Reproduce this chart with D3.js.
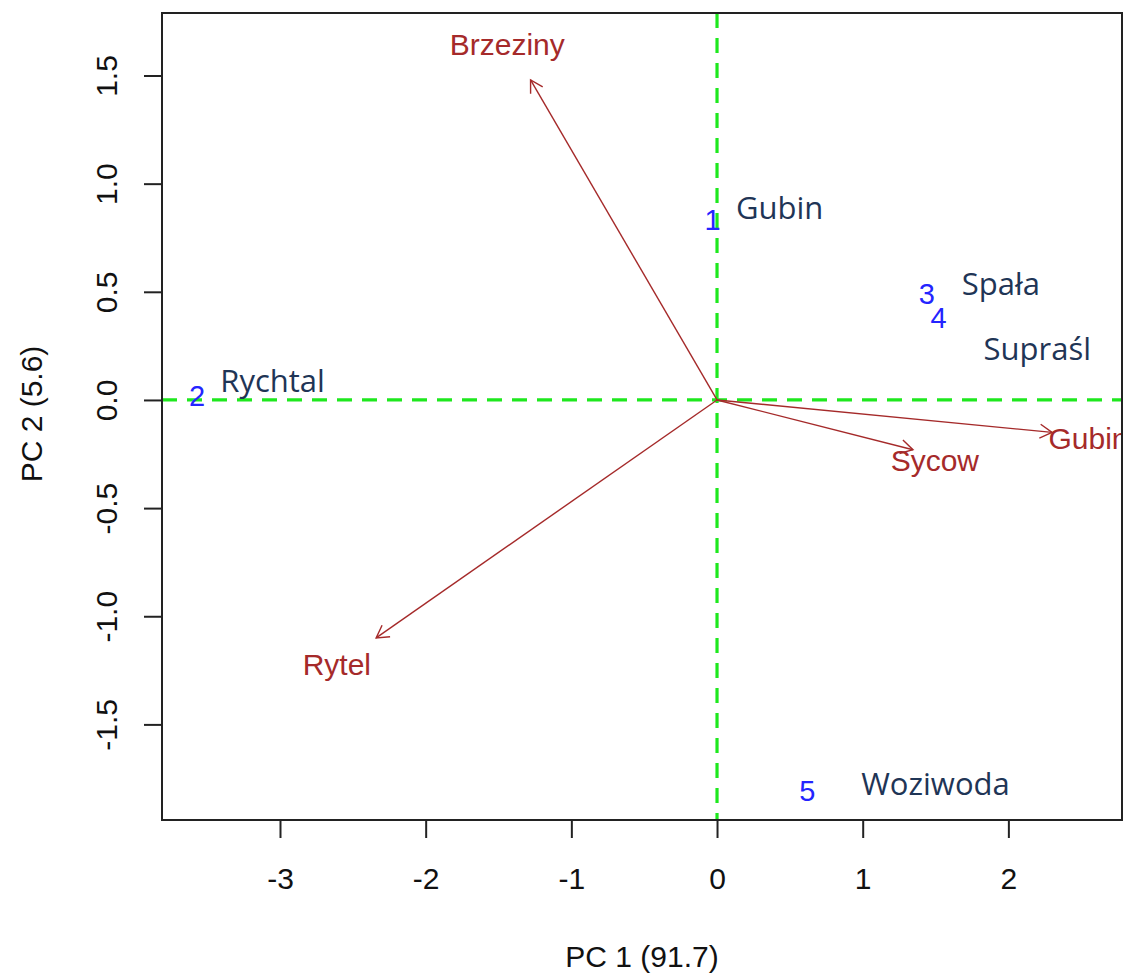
<!DOCTYPE html>
<html>
<head>
<meta charset="utf-8">
<script src="https://cdn.jsdelivr.net/npm/d3@7"></script>
<style>
  html, body { margin: 0; padding: 0; background: #fff; }
  svg { display: block; }
</style>
</head>
<body>
<script>
// Observation scores (PC1, PC2), drawn as their row numbers
const obsIds = ["1", "2", "3", "4", "5"];
const obsPC1 = [-0.03, -3.57, 1.44, 1.52, 0.62];
const obsPC2 = [0.83, 0.02, 0.49, 0.38, -1.81];

// Variable loadings (arrow tips) and their label positions
const varNames = ["Brzeziny", "Rytel", "Sycow", "Gubin"];
const varPC1 = [-1.28, -2.34, 1.345, 2.30];
const varPC2 = [1.48, -1.10, -0.23, -0.15];
const varLabPC1 = [-1.44, -2.61, 1.495, 2.55];
const varLabPC2 = [1.645, -1.225, -0.28, -0.18];

// Place names written beside the observations
const siteNames = ["Gubin", "Rychtal", "Spała", "Supraśl", "Woziwoda"];
const sitePC1 = [0.13, -3.41, 1.68, 1.83, 0.99];
const sitePC2 = [0.89, 0.09, 0.54, 0.24, -1.77];

const xTicks = [-3, -2, -1, 0, 1, 2];
const yTicks = [-1.5, -1.0, -0.5, 0.0, 0.5, 1.0, 1.5];
const xTitle = "PC 1 (91.7)";
const yTitle = "PC 2 (5.6)";

const W = 1124, H = 973;
const box = { left: 162, top: 13, right: 1122, bottom: 820 };

const x = d3.scaleLinear().domain([-3.81, 2.78]).range([box.left, box.right]);
const y = d3.scaleLinear().domain([-1.942, 1.789]).range([box.bottom, box.top]);

const svg = d3.select("body").append("svg").attr("width", W).attr("height", H);

const axisFont = "'Liberation Sans', Arial, sans-serif";
const siteFont = "'Open Sans', 'Noto Sans', sans-serif";
const hyphenate = f => d => f(d).replace("\u2212", "-");

// Clip for marks inside the plot frame
svg.append("clipPath").attr("id", "plotClip")
  .append("rect")
  .attr("x", box.left).attr("y", box.top)
  .attr("width", box.right - box.left).attr("height", box.bottom - box.top);

const plot = svg.append("g").attr("clip-path", "url(#plotClip)");

// Reference lines through the origin
const refCol = "#1ee81e";
plot.append("line")
  .attr("x1", x(0)).attr("x2", x(0)).attr("y1", box.top).attr("y2", box.bottom)
  .attr("stroke", refCol).attr("stroke-width", 3.2).attr("stroke-dasharray", "15,10");
plot.append("line")
  .attr("x1", box.left).attr("x2", box.right).attr("y1", y(0)).attr("y2", y(0))
  .attr("stroke", refCol).attr("stroke-width", 3.2).attr("stroke-dasharray", "15,10");

// Loading arrows with open heads
const arrowCol = "#a52a2a";
const headLen = 14, headAng = Math.PI / 6;
varNames.forEach((name, i) => {
  const x0 = x(0), y0 = y(0), x1 = x(varPC1[i]), y1 = y(varPC2[i]);
  plot.append("line")
    .attr("x1", x0).attr("y1", y0).attr("x2", x1).attr("y2", y1)
    .attr("stroke", arrowCol).attr("stroke-width", 1.4);
  const a = Math.atan2(y1 - y0, x1 - x0);
  const head = d3.path();
  head.moveTo(x1 - headLen * Math.cos(a - headAng), y1 - headLen * Math.sin(a - headAng));
  head.lineTo(x1, y1);
  head.lineTo(x1 - headLen * Math.cos(a + headAng), y1 - headLen * Math.sin(a + headAng));
  plot.append("path").attr("d", head.toString())
    .attr("fill", "none").attr("stroke", arrowCol).attr("stroke-width", 1.4);
  plot.append("text")
    .attr("x", x(varLabPC1[i])).attr("y", y(varLabPC2[i]))
    .attr("text-anchor", "middle").attr("dominant-baseline", "central")
    .attr("font-family", axisFont).attr("font-size", 30)
    .attr("fill", arrowCol).text(name);
});

// Observation numbers
obsIds.forEach((id, i) => {
  plot.append("text")
    .attr("x", x(obsPC1[i])).attr("y", y(obsPC2[i]))
    .attr("text-anchor", "middle").attr("dominant-baseline", "central")
    .attr("font-family", axisFont).attr("font-size", 29)
    .attr("fill", "#2424ff").text(id);
});

// Site names
siteNames.forEach((s, i) => {
  svg.append("text")
    .attr("x", x(sitePC1[i])).attr("y", y(sitePC2[i]))
    .attr("dominant-baseline", "central")
    .attr("font-family", siteFont).attr("font-size", 31)
    .attr("fill", "#1f3556").text(s);
});

// Frame
svg.append("rect")
  .attr("x", box.left).attr("y", box.top)
  .attr("width", box.right - box.left).attr("height", box.bottom - box.top)
  .attr("fill", "none").attr("stroke", "#222").attr("stroke-width", 2);

// Bottom axis
const xAxis = svg.append("g").attr("transform", `translate(0,${box.bottom})`)
  .call(d3.axisBottom(x).tickValues(xTicks).tickSize(18).tickFormat(hyphenate(d3.format("d"))));
xAxis.select(".domain").remove();
xAxis.selectAll("line").attr("stroke", "#222").attr("stroke-width", 2);
xAxis.selectAll("text")
  .attr("y", 69).attr("dy", null)
  .attr("font-family", axisFont).attr("font-size", 30).attr("fill", "#111");

// Left axis with rotated labels
const yAxis = svg.append("g").attr("transform", `translate(${box.left},0)`)
  .call(d3.axisLeft(y).tickValues(yTicks).tickSize(18).tickFormat(hyphenate(d3.format(".1f"))));
yAxis.select(".domain").remove();
yAxis.selectAll("line").attr("stroke", "#222").attr("stroke-width", 2);
yAxis.selectAll("text")
  .attr("font-family", axisFont).attr("font-size", 30).attr("fill", "#111")
  .attr("x", 0).attr("y", 0).attr("dy", null)
  .attr("text-anchor", "middle")
  .attr("transform", "translate(-45,0) rotate(-90)");

// Axis titles
svg.append("text")
  .attr("x", 642).attr("y", 967)
  .attr("text-anchor", "middle")
  .attr("font-family", axisFont).attr("font-size", 30).attr("fill", "#111")
  .text(xTitle);
svg.append("text")
  .attr("transform", `translate(42,414) rotate(-90)`)
  .attr("text-anchor", "middle")
  .attr("font-family", axisFont).attr("font-size", 30).attr("fill", "#111")
  .text(yTitle);
</script>
</body>
</html>
